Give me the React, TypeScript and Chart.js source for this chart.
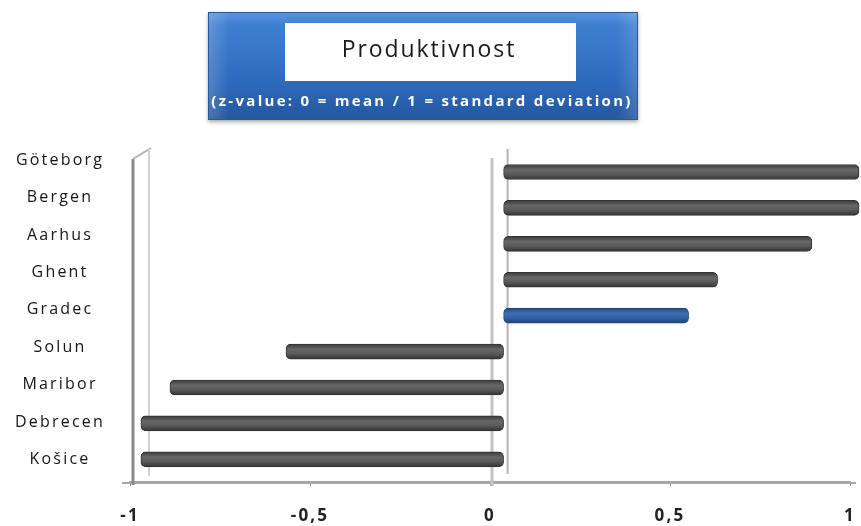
import React, { useEffect, useRef } from 'react';
import { Chart, registerables } from 'chart.js';

Chart.register(...registerables);

const categories = ['Göteborg', 'Bergen', 'Aarhus', 'Ghent', 'Gradec', 'Solun', 'Maribor', 'Debrecen', 'Košice'];
const values = [0.98, 0.98, 0.85, 0.59, 0.51, -0.6, -0.92, -1.0, -1.0];
const highlighted = 'Gradec';
const xTickValues = [-1, -0.5, 0, 0.5, 1];
const xTickLabels = ['-1', '-0,5', '0', '0,5', '1'];
const titleText = 'Produktivnost';
const subtitleText = '(z-value: 0 = mean / 1 = standard deviation)';

const LABEL_SPACING = '2.2px';

const titleBoxPlugin = {
  id: 'titleBox',
  beforeLayout(chart: any) {
    chart.ctx.letterSpacing = LABEL_SPACING;
  },
  beforeDraw(chart: any) {
    const ctx = chart.ctx;
    ctx.letterSpacing = LABEL_SPACING;
    ctx.save();
    const ox = 208, oy = 12, ow = 430, oh = 108;
    ctx.shadowColor = 'rgba(0,0,0,0.35)';
    ctx.shadowBlur = 4;
    ctx.shadowOffsetY = 2;
    const g = ctx.createLinearGradient(0, oy, 0, oy + oh);
    g.addColorStop(0, '#5b97e0');
    g.addColorStop(0.12, '#3f7fd0');
    g.addColorStop(0.6, '#2f6cbf');
    g.addColorStop(1, '#24579f');
    ctx.fillStyle = g;
    ctx.fillRect(ox, oy, ow, oh);
    ctx.shadowColor = 'transparent';
    const gl = ctx.createLinearGradient(ox, 0, ox + ow, 0);
    gl.addColorStop(0, 'rgba(255,255,255,0.18)');
    gl.addColorStop(0.05, 'rgba(255,255,255,0)');
    gl.addColorStop(0.95, 'rgba(255,255,255,0)');
    gl.addColorStop(1, 'rgba(255,255,255,0.15)');
    ctx.fillStyle = gl;
    ctx.fillRect(ox, oy, ow, oh);
    ctx.strokeStyle = '#2a5796';
    ctx.lineWidth = 1;
    ctx.strokeRect(ox + 0.5, oy + 0.5, ow - 1, oh - 1);
    ctx.fillStyle = '#ffffff';
    ctx.fillRect(285, 23, 291, 58);
    ctx.letterSpacing = '1.9px';
    ctx.fillStyle = '#1a1a1a';
    ctx.font = '23px "Open Sans", sans-serif';
    ctx.textAlign = 'center';
    ctx.textBaseline = 'middle';
    ctx.fillText(titleText, 429, 50);
    ctx.letterSpacing = '2.3px';
    ctx.fillStyle = '#ffffff';
    ctx.font = 'bold 15px "Open Sans", sans-serif';
    ctx.fillText(subtitleText, 422, 102);
    ctx.restore();
    ctx.letterSpacing = LABEL_SPACING;
  },
};

const wallPlugin = {
  id: 'walls',
  beforeDatasetsDraw(chart: any) {
    const ctx = chart.ctx;
    const x = chart.scales.x;
    const x2 = chart.scales.x2;
    const area = chart.chartArea;
    const left = x.getPixelForValue(-1);
    const right = x.getPixelForValue(1);
    const zeroFront = x.getPixelForValue(0);
    const zeroBack = x2.getPixelForValue(0);
    ctx.save();
    ctx.lineCap = 'butt';
    // floor line extension beyond the axis ends
    ctx.strokeStyle = '#a8a8a8';
    ctx.lineWidth = 2;
    ctx.beginPath();
    ctx.moveTo(left - 8, area.bottom + 1);
    ctx.lineTo(right + 6, area.bottom + 1);
    ctx.stroke();
    // left wall
    ctx.strokeStyle = '#8a8a8a';
    ctx.lineWidth = 3;
    ctx.beginPath();
    ctx.moveTo(left + 3, area.top + 9);
    ctx.lineTo(left + 3, area.bottom + 3);
    ctx.stroke();
    ctx.strokeStyle = '#b0b0b0';
    ctx.lineWidth = 2;
    ctx.beginPath();
    ctx.moveTo(left + 3, area.top + 9);
    ctx.lineTo(left + 21, area.top - 2);
    ctx.stroke();
    ctx.strokeStyle = '#d2d2d2';
    ctx.lineWidth = 2;
    ctx.beginPath();
    ctx.moveTo(left + 19, area.top - 1);
    ctx.lineTo(left + 19, area.bottom - 6);
    ctx.stroke();
    // zero wall
    ctx.strokeStyle = '#c4c4c4';
    ctx.lineWidth = 3;
    ctx.beginPath();
    ctx.moveTo(zeroFront + 2, area.top + 8);
    ctx.lineTo(zeroFront + 2, area.bottom + 4);
    ctx.stroke();
    ctx.strokeStyle = '#b4b4b4';
    ctx.lineWidth = 2;
    ctx.beginPath();
    ctx.moveTo(zeroBack + 4, area.top - 1);
    ctx.lineTo(zeroBack + 4, area.bottom - 8);
    ctx.stroke();
    ctx.restore();
  },
};

function barFill(context: any) {
  const chart = context.chart;
  const i = context.dataIndex;
  const isHi = categories[i] === highlighted;
  const yScale = chart.scales && chart.scales.y;
  if (!yScale || !chart.chartArea) return isHi ? '#33629f' : '#5a5a5a';
  const cy = yScale.getPixelForValue(i);
  const g = chart.ctx.createLinearGradient(0, cy - 7.5, 0, cy + 7.5);
  if (isHi) {
    g.addColorStop(0, '#234a80');
    g.addColorStop(0.35, '#3e6fb2');
    g.addColorStop(0.65, '#33629f');
    g.addColorStop(1, '#1f4275');
  } else {
    g.addColorStop(0, '#3a3a3a');
    g.addColorStop(0.35, '#676767');
    g.addColorStop(0.65, '#595959');
    g.addColorStop(1, '#333333');
  }
  return g;
}

export default function App() {
  const canvasRef = useRef<HTMLCanvasElement | null>(null);

  useEffect(() => {
    document.body.style.margin = '0';
    document.body.style.overflow = 'hidden';
    const canvas = canvasRef.current;
    if (!canvas) return;
    const chart = new Chart(canvas, {
      type: 'bar',
      data: {
        labels: categories,
        datasets: [
          {
            data: values.map((v, i) => ({ x: v, y: i })),
            xAxisID: 'x2',
            yAxisID: 'y',
            backgroundColor: barFill,
            borderColor: categories.map((c) => (c === highlighted ? '#1f4275' : '#333333')),
            borderWidth: 1,
            borderRadius: 5,
            borderSkipped: false,
            barThickness: 15,
            clip: false,
          } as any,
        ],
      },
      options: {
        indexAxis: 'y',
        animation: false,
        responsive: true,
        maintainAspectRatio: false,
        layout: { padding: { top: 150, right: 11, left: 0, bottom: 0 } },
        plugins: {
          legend: { display: false },
          tooltip: { enabled: false },
          title: { display: false },
        },
        scales: {
          x: {
            type: 'linear',
            position: 'bottom',
            min: -1,
            max: 1,
            offset: false,
            afterBuildTicks: (axis: any) => {
              axis.ticks = xTickValues.map((v) => ({ value: v }));
            },
            afterFit: (axis: any) => {
              axis.height = 44;
              axis.paddingLeft = 0;
              axis.paddingRight = 0;
            },
            ticks: {
              callback: (_v: any, idx: number) => xTickLabels[idx],
              font: { family: '"Open Sans", sans-serif', size: 17, weight: 'bold' },
              color: '#222222',
              padding: 20,
              maxRotation: 0,
            },
            grid: { display: true, drawOnChartArea: false, drawTicks: true, tickLength: 4, color: '#9a9a9a', offset: false },
            border: { display: true, color: '#a8a8a8', width: 2 },
          },
          x2: {
            type: 'linear',
            display: false,
            offset: false,
            min: -1.03,
            max: 0.955,
          },
          y: {
            type: 'linear',
            display: false,
            reverse: true,
            offset: false,
            min: -0.613,
            max: 8.63,
          },
          y2: {
            type: 'linear',
            position: 'left',
            reverse: true,
            offset: false,
            min: -0.27,
            max: 8.6,
            afterBuildTicks: (axis: any) => {
              axis.ticks = categories.map((_c, i) => ({ value: i }));
            },
            afterFit: (axis: any) => {
              axis.width = 130;
              axis.paddingTop = 0;
              axis.paddingBottom = 0;
            },
            ticks: {
              callback: (v: any) => categories[v as number],
              font: { family: '"Open Sans", sans-serif', size: 16 },
              color: '#151515',
              padding: 17,
              crossAlign: 'center',
            },
            grid: { display: false, offset: false },
            border: { display: false },
          },
        },
      } as any,
      plugins: [titleBoxPlugin, wallPlugin],
    });
    return () => chart.destroy();
  }, []);

  return (
    <div style={{ position: 'relative', width: 861, height: 526 }}>
      <canvas ref={canvasRef} />
    </div>
  );
}
